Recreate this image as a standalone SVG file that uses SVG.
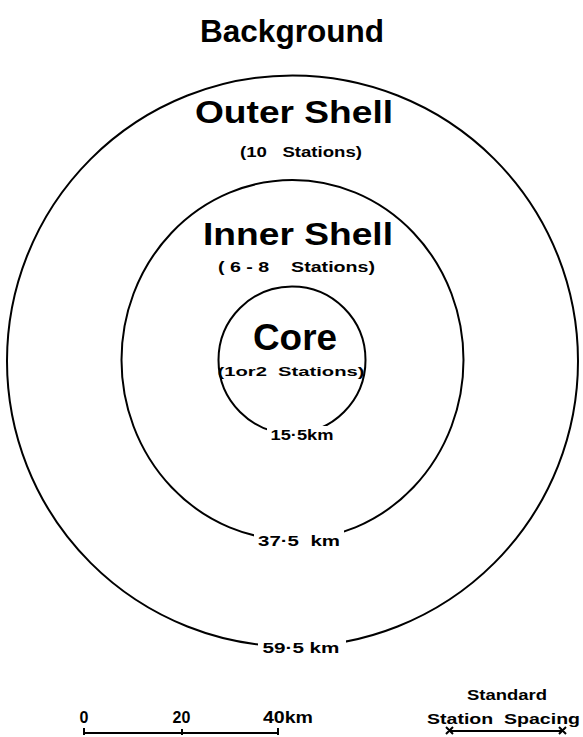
<svg xmlns="http://www.w3.org/2000/svg" width="583" height="737" viewBox="0 0 583 737">
<style>
text{font-family:"Liberation Sans",Arial,sans-serif;font-weight:bold;fill:#000;text-anchor:middle}
.ring{fill:none;stroke:#000;stroke-width:2}
.gap{fill:#fff;stroke:none}
.bar{stroke:#000;stroke-width:2;fill:none}
</style>
<rect width="583" height="737" fill="#fff"/>
<text x="292" y="42" font-size="31" textLength="184" lengthAdjust="spacingAndGlyphs">Background</text>
<g id="outer">
<circle class="ring" cx="292.5" cy="361" r="285.5"/>
<rect class="gap" x="258" y="636" width="88" height="20"/>
<text x="294" y="123" font-size="32" textLength="198" lengthAdjust="spacingAndGlyphs">Outer Shell</text>
<text x="301" y="157" font-size="15" textLength="122" lengthAdjust="spacingAndGlyphs" xml:space="preserve">(10   Stations)</text>
<text x="301" y="653" font-size="15" textLength="77" lengthAdjust="spacingAndGlyphs">59·5 km</text>
</g>
<g id="inner">
<ellipse class="ring" cx="292.5" cy="360" rx="171" ry="180"/>
<rect class="gap" x="254" y="530" width="90" height="20"/>
<text x="298" y="245" font-size="32" textLength="190" lengthAdjust="spacingAndGlyphs">Inner Shell</text>
<text x="296.5" y="272" font-size="15" textLength="157" lengthAdjust="spacingAndGlyphs" xml:space="preserve">( 6 - 8    Stations)</text>
<text x="299" y="546" font-size="15" textLength="82" lengthAdjust="spacingAndGlyphs" xml:space="preserve">37·5  km</text>
</g>
<g id="core">
<circle class="ring" cx="292" cy="360" r="73.5"/>
<rect class="gap" x="267" y="426" width="70" height="18"/>
<text x="295" y="350" font-size="36" textLength="84" lengthAdjust="spacingAndGlyphs">Core</text>
<text x="291" y="376" font-size="13" textLength="147" lengthAdjust="spacingAndGlyphs" xml:space="preserve">(1or2  Stations)</text>
<text x="302" y="440" font-size="15" textLength="63" lengthAdjust="spacingAndGlyphs">15·5km</text>
</g>
<g id="scale">
<path class="bar" d="M84 733H278M84 728V735M182 729V735M278 728V735"/>
<text x="84" y="723" font-size="16">0</text>
<text x="181.5" y="723" font-size="16">20</text>
<text x="288" y="723" font-size="16" textLength="50" lengthAdjust="spacingAndGlyphs">40km</text>
</g>
<g id="spacing">
<text x="507" y="700" font-size="15" textLength="80" lengthAdjust="spacingAndGlyphs">Standard</text>
<text x="503.5" y="724" font-size="15" textLength="153" lengthAdjust="spacingAndGlyphs" xml:space="preserve">Station  Spacing</text>
<path class="bar" d="M450 731H562"/>
<path class="bar" stroke-width="2.5" d="M446 727l7 7M453 727l-7 7M559 727l7 7M566 727l-7 7"/>
</g>
<g id="connectors"></g>
</svg>
